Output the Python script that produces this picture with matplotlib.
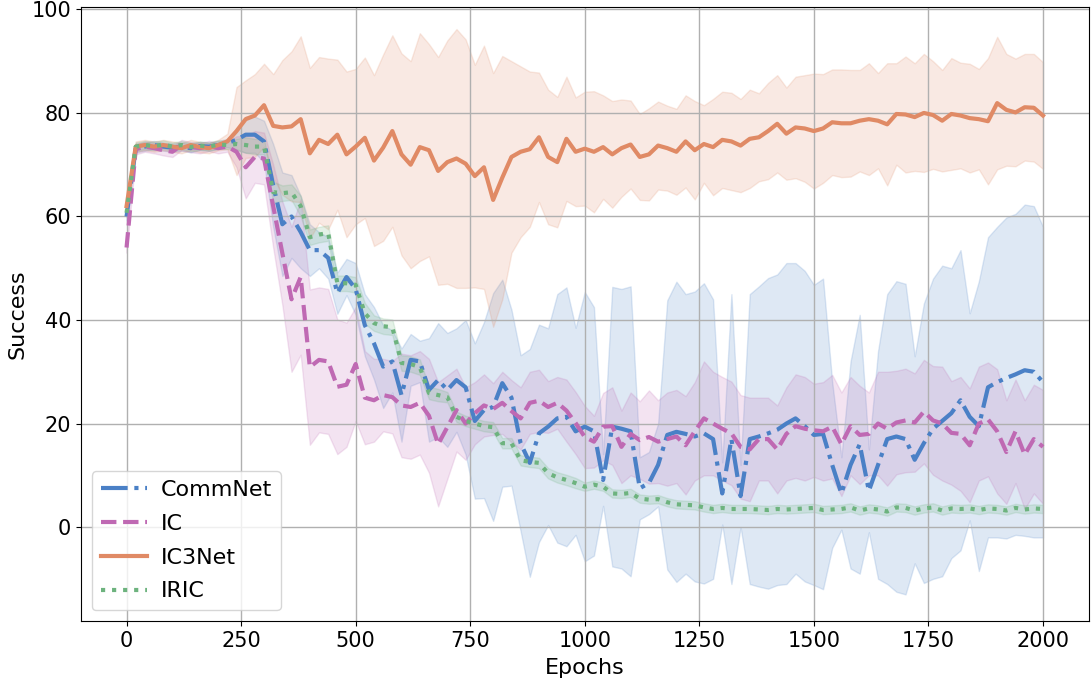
import numpy as np
import matplotlib
matplotlib.use('Agg')
import matplotlib.pyplot as plt

epochs = np.arange(0, 2001, 20)

commnet_mean = [60, 73.2, 73.5, 73.8, 73.5, 73.3, 73.5, 73.2, 73.6, 73.5,
                73.8, 74.2, 74.8, 75.8, 75.8, 74.5, 66, 58.5, 60, 57,
                53.5, 53.5, 52, 45.2, 48.3, 46, 39, 35.5, 31, 32,
                25.5, 32.3, 32, 26.5, 28.4, 26.5, 28.4, 27, 20.5, 22.6,
                23.2, 27.8, 25, 16.2, 12.4, 18.1, 19.4, 21, 21.3, 18.5,
                19.4, 18.5, 9.1, 19.4, 19.0, 18.5, 7.5, 8.5, 12, 17.8,
                18.4, 18.0, 17.5, 18.1, 17, 6.5, 17, 6.0, 17, 17.5,
                18.1, 18.8, 20, 21, 19.5, 17.8, 18, 12, 6.5, 12,
                16, 7, 12, 17, 17.5, 17, 13, 16.2, 19, 20.5,
                22, 24.5, 21.3, 19.5, 27, 28, 28.8, 29.5, 30.3, 30,
                28]
commnet_std = [0.8, 0.8, 0.8, 0.8, 0.8, 0.8, 0.8, 0.8, 0.8, 0.8,
               0.8, 0.8, 2, 3.5, 3.5, 4, 8, 10, 8, 7,
               5, 3.5, 4, 4, 3.5, 5, 6, 7, 8, 6,
               9, 5, 4, 10, 11, 11, 10, 13, 15, 17,
               22, 20, 17, 17, 22, 21, 19, 24, 25, 20,
               26, 24, 5, 27, 27, 28, 6, 6, 8, 26,
               29, 27, 28, 29, 27, 6, 28, 6, 28, 29,
               30, 30, 31, 30, 30, 29, 30, 16, 7, 20,
               25, 8, 22, 28, 30, 30, 20, 27, 29, 30,
               28, 29, 20, 28, 29, 30, 31, 31, 32, 32,
               30]

ic_mean = [54, 73, 73.5, 73.2, 72.8, 72.5, 73.8, 73.4, 73.2, 73.6,
           73.2, 73.5, 72.5, 69.5, 71.5, 71.2, 62, 52.9, 44, 48.3,
           30.9, 32.3, 32, 27.1, 27.5, 31.5, 25, 24.5, 25.5, 25.1,
           23.5, 23.2, 24, 21.5, 16, 19.3, 22.6, 20, 22, 23.5,
           22.8, 24, 22.4, 21, 24, 24.4, 23.2, 24, 22.5, 20.1,
           17.4, 16.5, 19.4, 19.5, 15.5, 18, 16.8, 17.4, 16.5, 17,
           17.5, 15.8, 18.5, 21, 20, 19, 18.1, 15.5, 15, 17,
           17, 15, 18, 19.5, 19, 18.7, 18.5, 19.4, 16, 19.5,
           17.8, 18, 20, 19, 20.2, 20.6, 20.2, 22.3, 20.6, 20,
           18.2, 18, 15.8, 20, 20.8, 18.5, 14.5, 18.5, 14, 17,
           15.5]
ic_std = [1, 1, 1, 1, 1, 1, 1, 1, 1, 1,
          1, 1, 3, 6, 5, 5, 8, 10, 14, 15,
          15, 14, 14, 13, 12, 11, 9, 8, 7, 7,
          10, 10, 10, 11, 12, 10, 8, 7, 6, 6,
          5, 6, 6, 6, 6, 6, 5, 5, 6, 6,
          6, 5, 6.5, 7.5, 7, 8, 7.5, 9, 8, 9,
          9, 9.5, 9.5, 11, 10, 10, 10, 10, 10, 8,
          8, 8.5, 9, 10, 10, 9, 9.5, 10, 10, 9.5,
          9.5, 8, 10, 11, 10, 10, 9.5, 10, 10.5, 11,
          10, 11, 11, 11, 11, 12, 10, 10, 10.5, 10.5,
          11]

ic3net_mean = [62, 73.5, 73.8, 73.5, 73.8, 73.5, 73.2, 73.8, 73.4, 73.2,
               73.8, 74.5, 76.5, 78.8, 79.5, 81.5, 77.5, 77.2, 77.4, 78.8,
               72.2, 74.8, 74.0, 75.8, 72.0, 73.5, 75.2, 70.8, 73.3, 76.5,
               72.0, 70.0, 73.4, 72.8, 68.8, 70.5, 71.2, 70.2, 67.8, 69.5,
               63.2, 67.5, 71.5, 72.5, 73.0, 75.3, 71.5, 70.5, 75.0, 72.5,
               73.1, 72.5, 73.4, 72.0, 73.2, 73.9, 71.5, 72.0, 73.7, 73.2,
               72.5, 74.5, 72.8, 74.0, 73.4, 74.8, 74.5, 73.7, 75.0, 75.3,
               76.5, 77.9, 76.0, 77.2, 77.0, 76.5, 77.0, 78.2, 78.0, 78.0,
               78.5, 78.8, 78.5, 77.8, 79.8, 79.7, 79.2, 80.0, 79.6, 78.5,
               79.8, 79.5, 79.0, 78.8, 78.4, 81.9, 80.6, 80.1, 81.1, 81.0,
               79.5]
ic3net_std = [1, 1, 1, 1, 1, 1, 1, 1, 1, 1,
              1, 1.5, 8.5, 7.5, 8, 8, 10, 13, 14.5, 16,
              16.5, 16, 16.5, 14.5, 16, 15, 15.5, 16.5, 18, 18.5,
              19.5, 20, 22, 20.5, 22, 23.5, 25, 24, 21.5, 23.5,
              24.5, 23.5, 18.5, 16.5, 15, 12.5, 13, 12.6, 12, 10.5,
              11, 11.7, 10, 10.3, 9.4, 8.5, 8.3, 8.9, 8.5, 8.2,
              8.3, 8.9, 9.5, 7.5, 9.3, 9.3, 9.4, 9, 9.5, 8.5,
              9.3, 9.4, 8.9, 9.8, 10.3, 11.1, 10.5, 10.2, 10.4, 10.3,
              9.8, 10.8, 9.2, 11.8, 9.8, 11.2, 10.4, 11.4, 10.4, 9.8,
              10.8, 10.2, 10.5, 9.7, 12.2, 12.8, 10.8, 10.4, 10.3, 10.4,
              10.3]

iric_mean = [60.7, 73.5, 73.8, 73.6, 73.9, 73.5, 73.8, 73.4, 73.7, 73.5,
             73.9, 73.8, 74.0, 73.8, 73.5, 73.5, 64.7, 64.5, 64.7, 62,
             56, 56.5, 56.8, 47.1, 47.1, 46.8, 41.3, 39.4, 38.8, 38.6,
             31.7, 31.5, 30.9, 25.9, 25.5, 25.1, 21.3, 20.5, 20, 19.5,
             19.3, 16.2, 16.2, 12.9, 12.6, 12.4, 10.4, 9.6, 9.1, 8.5,
             7.8, 8.2, 7.8, 6.5, 6.4, 6.6, 5.5, 5.3, 5.4, 4.8,
             4.4, 4.3, 4.2, 3.8, 3.5, 3.7, 3.5, 3.5, 3.5, 3.4,
             3.3, 3.5, 3.4, 3.5, 3.6, 3.7, 3.3, 3.4, 3.5, 3.8,
             3.2, 3.6, 3.4, 3.0, 3.8, 3.7, 3.2, 3.6, 3.8, 3.2,
             3.6, 3.5, 3.6, 3.3, 3.6, 3.5, 3.2, 3.7, 3.4, 3.6,
             3.5]
iric_std = [0.8, 0.8, 0.8, 0.8, 0.8, 0.8, 0.8, 0.8, 0.8, 0.8,
            0.8, 0.8, 1, 1.5, 1.5, 1.5, 2, 1.5, 1.5, 2,
            1.5, 1.5, 1.5, 1.5, 1.5, 1.5, 2, 1.5, 1.5, 1.5,
            1.5, 1.5, 1.5, 1.2, 1.2, 1, 1, 1, 1, 1,
            1, 1, 1, 1, 1, 1, 1, 1, 1, 1,
            0.8, 0.8, 0.8, 0.8, 0.8, 0.8, 0.8, 0.8, 0.8, 0.8,
            0.8, 0.8, 0.8, 0.8, 0.8, 0.8, 0.8, 0.8, 0.8, 0.8,
            0.8, 0.8, 0.8, 0.8, 0.8, 0.8, 0.8, 0.8, 0.8, 0.8,
            0.8, 0.8, 0.8, 0.8, 0.8, 0.8, 0.8, 0.8, 0.8, 0.8,
            0.8, 0.8, 0.8, 0.8, 0.8, 0.8, 0.8, 0.8, 0.8, 0.8,
            0.8]

series = [
    ('CommNet', commnet_mean, commnet_std, '#4a80c6', '-.'),
    ('IC', ic_mean, ic_std, '#bf69b3', '--'),
    ('IC3Net', ic3net_mean, ic3net_std, '#e08a65', '-'),
    ('IRIC', iric_mean, iric_std, '#6db37e', ':'),
]

fig, ax = plt.subplots(figsize=(10.91, 6.82), dpi=100)
fig.subplots_adjust(left=0.074, right=0.998, top=0.99, bottom=0.089)

for name, mean, std, color, ls in series:
    mean = np.array(mean)
    std = np.array(std)
    ax.plot(epochs, mean, ls, color=color, linewidth=3, label=name)
    ax.fill_between(epochs, mean - std, mean + std, color=color, alpha=0.18)

ax.set_xlim(-100, 2100)
ax.set_ylim(-18.2, 100.5)
ax.set_xticks([0, 250, 500, 750, 1000, 1250, 1500, 1750, 2000])
ax.set_yticks([0, 20, 40, 60, 80, 100])
ax.tick_params(labelsize=15)
ax.grid(True, color='#b0b0b0', linewidth=1)
ax.set_xlabel('Epochs', fontsize=16, labelpad=5)
ax.set_ylabel('Success', fontsize=16, labelpad=3)
ax.legend(loc='lower left', fontsize=16, handlelength=2.1,
          handletextpad=0.6, labelspacing=0.62)

plt.savefig('out.png')
